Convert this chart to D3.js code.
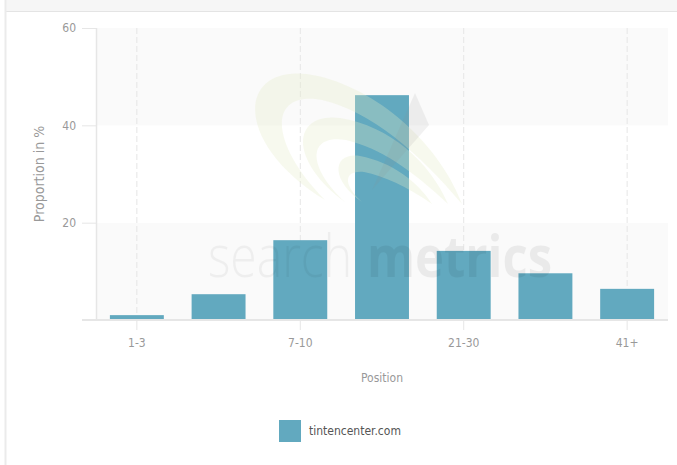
<!DOCTYPE html>
<html>
<head>
<meta charset="utf-8">
<script src="https://cdn.jsdelivr.net/npm/d3@7"></script>
<style>
  body { margin: 0; background: #fff; }
  text { font-family: "DejaVu Sans Condensed", "Liberation Sans", sans-serif; }
</style>
</head>
<body>
<div id="chart"></div>
<script>
// data
const categories = ['1-3', '4-6', '7-10', '11-20', '21-30', '31-40', '41+']
const shownLabels = ['1-3', '7-10', '21-30', '41+']
const values = [1.0, 5.3, 16.4, 46.2, 14.2, 9.6, 6.4]
const yTicks = [0, 20, 40, 60]
const seriesName = 'tintencenter.com'

const width = 677,
  height = 465

const svg = d3.select('#chart')
  .append('svg')
  .attr('width', width)
  .attr('height', height)

// frame around the widget
svg.append('rect')
  .attr('x', 5).attr('y', 0).attr('width', width - 5).attr('height', 11)
  .attr('fill', '#f6f6f6')
svg.append('line')
  .attr('x1', 5).attr('x2', width).attr('y1', 11.5).attr('y2', 11.5)
  .attr('stroke', '#e4e4e4')
svg.append('line')
  .attr('x1', 5.5).attr('x2', 5.5).attr('y1', 0).attr('y2', height)
  .attr('stroke', '#ebebeb').attr('stroke-width', 2)

// scales
const x = d3.scaleBand()
  .domain(categories)
  .range([96, 668])
  .paddingInner(0.34)
  .paddingOuter(0.17)

const y = d3.scaleLinear()
  .domain([0, 60])
  .range([320, 28])

// alternating background bands
const bands = [[0, 20, '#fafafa'], [20, 40, '#ffffff'], [40, 60, '#fafafa']]
svg.selectAll('rect.band')
  .data(bands)
  .enter()
  .append('rect')
  .attr('class', 'band')
  .attr('x', 96)
  .attr('width', 668 - 96)
  .attr('y', d => y(d[1]))
  .attr('height', d => y(d[0]) - y(d[1]))
  .attr('fill', d => d[2])

// dashed vertical grid at labelled categories
svg.selectAll('line.vgrid')
  .data(shownLabels)
  .enter()
  .append('line')
  .attr('class', 'vgrid')
  .attr('x1', d => x(d) + x.bandwidth() / 2)
  .attr('x2', d => x(d) + x.bandwidth() / 2)
  .attr('y1', y(60))
  .attr('y2', y(0))
  .attr('stroke', '#e6e6e6')
  .attr('stroke-dasharray', '6,3')

// y axis
const axisY = d3.axisLeft(y).tickValues(yTicks.filter(t => t > 0)).tickSize(14).tickPadding(6)
const gy = svg.append('g')
  .attr('transform', 'translate(96, 0)')
  .call(axisY)
gy.select('.domain').attr('stroke', '#e6e6e6').attr('stroke-width', 1.5)
  .attr('d', `M0.5,${y(60)}V${y(0)}`)
gy.selectAll('.tick line').attr('stroke', '#e6e6e6')
gy.selectAll('.tick text').attr('fill', '#999').style('font-size', '12px')

// bars
svg.selectAll('rect.bar')
  .data(values)
  .enter()
  .append('rect')
  .attr('class', 'bar')
  .attr('x', (d, i) => x(categories[i]))
  .attr('width', x.bandwidth())
  .attr('y', d => y(d))
  .attr('height', d => y(0) - y(d))
  .attr('fill', '#62a9bf')

// x axis
const axisX = d3.axisBottom(x).tickValues(shownLabels).tickSize(10).tickPadding(8)
const gx = svg.append('g')
  .attr('transform', `translate(0, ${y(0)})`)
  .call(axisX)
gx.select('.domain').attr('stroke', '#e6e6e6').attr('stroke-width', 2)
  .attr('d', 'M82,0H668')
gx.selectAll('.tick line').attr('stroke', '#e6e6e6')
gx.selectAll('.tick text').attr('fill', '#999').style('font-size', '12px')

// watermark
const wm = svg.append('g').attr('pointer-events', 'none')
const swooshes = [
  'M325,200 C228,140 238,58 318,76 C385,92 442,150 462,204 C418,152 372,112 322,100 C268,90 268,142 325,200 Z',
  'M345,202 C288,160 292,112 340,118 C390,126 430,162 448,204 C412,170 380,148 346,140 C306,134 308,168 345,202 Z',
  'M362,202 C330,180 332,152 360,156 C392,162 418,182 432,204 C406,186 384,176 364,172 C342,170 344,186 362,202 Z'
]
wm.selectAll('path.swoosh')
  .data(swooshes)
  .enter()
  .append('path')
  .attr('class', 'swoosh')
  .attr('d', d => d)
  .attr('fill', '#e4ecc8')
  .attr('opacity', 0.3)
wm.append('path')
  .attr('d', 'M415,93 L429,125 L372,190 Z')
  .attr('fill', '#888')
  .attr('opacity', 0.12)
wm.append('text')
  .attr('x', 208).attr('y', 277)
  .attr('textLength', 144).attr('lengthAdjust', 'spacingAndGlyphs')
  .style('font-family', '"Open Sans", sans-serif')
  .style('font-size', '58px')
  .style('font-weight', 300)
  .attr('fill', '#000').attr('opacity', 0.045)
  .text('search')
wm.append('text')
  .attr('x', 367).attr('y', 277)
  .attr('textLength', 185).attr('lengthAdjust', 'spacingAndGlyphs')
  .style('font-family', '"Open Sans", sans-serif')
  .style('font-size', '58px')
  .style('font-weight', 700)
  .attr('fill', '#000').attr('opacity', 0.06)
  .text('metrics')

// axis titles
svg.append('text')
  .attr('transform', `translate(44, ${(y(0) + y(60)) / 2}) rotate(-90)`)
  .attr('text-anchor', 'middle')
  .attr('fill', '#999')
  .style('font-size', '14px')
  .text('Proportion in %')

svg.append('text')
  .attr('x', (96 + 668) / 2)
  .attr('y', 382)
  .attr('text-anchor', 'middle')
  .attr('fill', '#999')
  .style('font-size', '12px')
  .text('Position')

// legend
const legend = svg.append('g').attr('transform', 'translate(279, 420)')
legend.append('rect')
  .attr('width', 22).attr('height', 22)
  .attr('fill', '#62a9bf')
legend.append('text')
  .attr('x', 30).attr('y', 11).attr('dy', '0.35em')
  .attr('fill', '#555')
  .style('font-size', '12px')
  .text(seriesName)
</script>
</body>
</html>
